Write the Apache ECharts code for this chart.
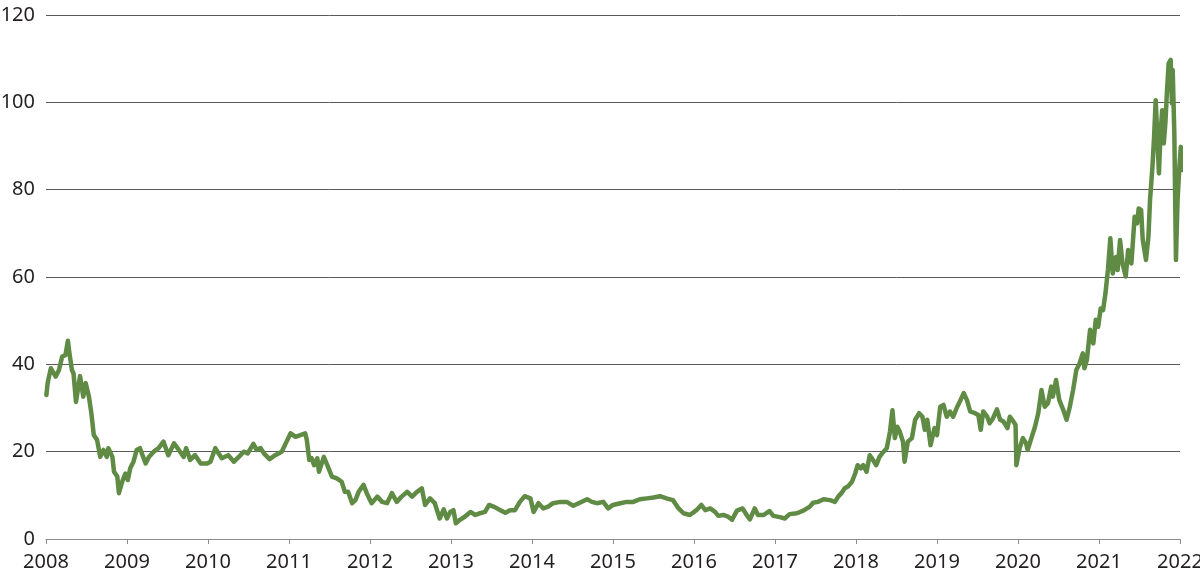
<!DOCTYPE html>
<html>
<head>
<meta charset="utf-8">
<script src="https://cdn.jsdelivr.net/npm/echarts@6/dist/echarts.min.js"></script>
<style>
html,body{margin:0;padding:0;background:#fff;}
#chart{width:1200px;height:576px;}
</style>
</head>
<body>
<div id="chart"></div>
<script>
// decimal years
var dates = [
2008.005,2008.02,2008.06,2008.12,2008.16,2008.20,2008.24,2008.27,2008.29,2008.32,2008.34,2008.37,2008.40,2008.42,2008.46,2008.49,2008.53,2008.56,2008.59,2008.63,2008.67,2008.71,2008.75,2008.77,2008.82,2008.84,2008.88,2008.90,2008.94,2008.98,
2009.01,2009.04,2009.08,2009.12,2009.16,2009.23,2009.27,2009.33,2009.39,2009.45,2009.51,2009.58,2009.64,2009.70,2009.73,2009.78,2009.84,2009.91,2009.99,
2010.03,2010.09,2010.17,2010.25,2010.32,2010.38,2010.44,2010.46,2010.49,2010.56,2010.60,2010.65,2010.69,2010.76,2010.83,2010.91,2010.97,
2011.02,2011.08,2011.14,2011.20,2011.22,2011.25,2011.28,2011.31,2011.35,2011.37,2011.43,2011.48,2011.53,2011.59,2011.65,2011.69,2011.73,2011.78,2011.82,2011.86,2011.92,2011.96,
2012.02,2012.09,2012.15,2012.21,2012.27,2012.33,2012.39,2012.46,2012.52,2012.58,2012.64,2012.68,2012.74,2012.80,2012.86,2012.91,2012.95,2012.99,
2013.03,2013.06,2013.11,2013.17,2013.24,2013.30,2013.36,2013.42,2013.47,2013.54,2013.61,2013.67,2013.73,2013.79,2013.85,2013.91,2013.98,
2014.02,2014.08,2014.14,2014.20,2014.26,2014.35,2014.43,2014.51,2014.59,2014.68,2014.74,2014.80,2014.88,2014.94,
2015.00,2015.09,2015.17,2015.25,2015.33,2015.42,2015.50,2015.58,2015.66,2015.74,2015.81,2015.87,2015.95,
2016.03,2016.09,2016.14,2016.20,2016.26,2016.30,2016.36,2016.42,2016.47,2016.53,2016.60,2016.65,2016.69,2016.75,2016.79,2016.86,2016.93,2016.98,
2017.06,2017.12,2017.18,2017.27,2017.35,2017.43,2017.47,2017.53,2017.60,2017.68,2017.74,2017.78,2017.82,2017.86,2017.90,2017.95,2017.99,
2018.02,2018.06,2018.09,2018.13,2018.17,2018.21,2018.25,2018.29,2018.34,2018.38,2018.42,2018.45,2018.48,2018.51,2018.54,2018.58,2018.60,2018.64,2018.69,2018.73,2018.78,2018.82,2018.85,2018.88,2018.92,2018.97,
2019.00,2019.04,2019.08,2019.12,2019.16,2019.20,2019.25,2019.29,2019.33,2019.37,2019.41,2019.47,2019.51,2019.54,2019.57,2019.62,2019.65,2019.69,2019.74,2019.78,2019.82,2019.87,2019.90,2019.94,2019.97,2019.98,
2020.02,2020.06,2020.10,2020.12,2020.17,2020.21,2020.25,2020.29,2020.33,2020.37,2020.41,2020.43,2020.47,2020.51,2020.56,2020.60,2020.64,2020.68,2020.72,2020.76,2020.80,2020.82,2020.85,2020.89,2020.93,2020.96,2020.99,
2021.02,2021.05,2021.08,2021.11,2021.14,2021.17,2021.21,2021.23,2021.26,2021.29,2021.33,2021.36,2021.40,2021.44,2021.47,2021.49,2021.52,2021.54,2021.58,2021.61,2021.63,2021.66,2021.68,2021.70,2021.72,2021.74,2021.76,2021.78,2021.80,2021.82,2021.84,2021.86,2021.885,2021.90,2021.91,2021.93,2021.95,2021.97,2021.99,
2022.01,2022.025
];
var values = [
33.0,35.7,39.1,37.2,38.7,41.8,42.1,45.4,42.5,38.7,37.9,31.4,34.9,37.3,32.6,35.7,32.6,28.8,23.8,22.7,18.8,20.4,18.8,20.8,18.8,15.4,14.3,10.5,13.1,15.0,
13.5,16.2,17.7,20.4,20.8,17.3,18.8,20.0,20.8,22.3,19.2,21.9,20.4,18.8,20.8,18.1,19.2,17.3,17.3,
17.7,20.8,18.5,19.2,17.7,18.8,20.0,20.4,19.6,21.8,20.4,20.8,19.6,18.3,19.2,20.0,22.3,
24.2,23.4,23.8,24.2,22.7,18.1,18.5,16.9,18.5,15.4,18.8,16.6,14.3,13.9,13.1,10.8,10.8,8.2,8.9,10.8,12.4,10.5,
8.2,9.7,8.5,8.2,10.5,8.5,9.7,10.8,9.7,10.8,11.6,7.8,9.3,8.2,4.7,6.8,4.7,6.2,
6.6,3.6,4.4,5.1,6.2,5.5,5.9,6.2,7.8,7.3,6.6,6.0,6.6,6.6,8.5,9.8,9.3,
6.2,8.2,7.0,7.4,8.2,8.5,8.5,7.6,8.3,9.1,8.5,8.2,8.5,7.0,
7.8,8.2,8.5,8.5,9.1,9.3,9.5,9.8,9.3,8.9,7.0,5.9,5.5,
6.6,7.8,6.6,7.0,6.2,5.3,5.5,5.1,4.4,6.5,7.0,5.5,4.5,7.0,5.5,5.5,6.4,5.3,
5.0,4.7,5.7,5.9,6.5,7.4,8.3,8.5,9.1,8.9,8.5,9.7,10.5,11.6,12.0,13.1,15.0,
16.9,16.2,16.9,15.4,19.2,18.1,16.9,18.8,20.0,20.8,24.6,29.5,23.1,25.7,24.6,22.3,17.7,22.3,23.1,27.3,28.8,28.0,25.0,27.3,21.5,25.4,
23.8,30.3,30.7,28.0,29.2,28.0,30.3,31.8,33.4,31.8,29.2,28.8,28.4,25.0,29.2,28.0,26.5,27.6,29.7,27.3,26.9,25.4,28.0,27.0,26.1,16.9,
20.8,23.1,21.9,20.4,23.4,25.7,28.8,34.1,30.3,31.1,34.9,32.6,36.4,31.8,29.5,27.3,30.3,34.1,38.7,40.2,42.5,39.1,41.0,47.9,44.8,50.2,48.6,
52.8,52.4,56.3,61.6,68.9,60.8,64.6,61.6,68.5,63.1,60.1,66.2,63.1,73.8,72.3,75.7,75.3,68.5,63.9,69.2,77.6,85.3,92.1,100.5,92.1,83.7,92.9,98.2,90.6,95.4,102.8,108.9,109.7,99.8,107.4,92.9,63.9,77.6,84.5,
89.8,84.5
];
var yTicks = [0,20,40,60,80,100,120];

var seriesData = dates.map(function(d,i){return [d, values[i]];});

var chart = echarts.init(document.getElementById('chart'), null, {renderer:'canvas'});
chart.setOption({
  animation:false,
  backgroundColor:'#ffffff',
  grid:{left:46, right:20, top:15, bottom:37, containLabel:false, outerBoundsMode:'none'},
  xAxis:{
    type:'value', min:2008, max:2022, interval:1,
    axisLine:{show:true, lineStyle:{color:'#8c8c8c', width:1}},
    axisTick:{show:true, length:5, lineStyle:{color:'#8c8c8c', width:1}},
    axisLabel:{color:'#231f20', fontSize:20, fontFamily:'Noto Sans', margin:13,
      hideOverlap:false, showMinLabel:true, showMaxLabel:true,
      formatter:function(v){return String(v);}},
    splitLine:{show:false}
  },
  yAxis:{
    type:'value', min:0, max:120, interval:20,
    axisLine:{show:false}, axisTick:{show:false},
    axisLabel:{color:'#231f20', fontSize:20, fontFamily:'Noto Sans', margin:11,
      formatter:function(v){return yTicks.indexOf(v)>=0?String(v):'';}},
    splitLine:{show:true, lineStyle:{color:'#5a5a5a', width:1}}
  },
  series:[{
    type:'line', data:seriesData, showSymbol:false, symbol:'none', clip:false,
    lineStyle:{color:'#5f8b45', width:4.5, join:'round', cap:'round'},
    z:3
  }]
});
</script>
</body>
</html>
